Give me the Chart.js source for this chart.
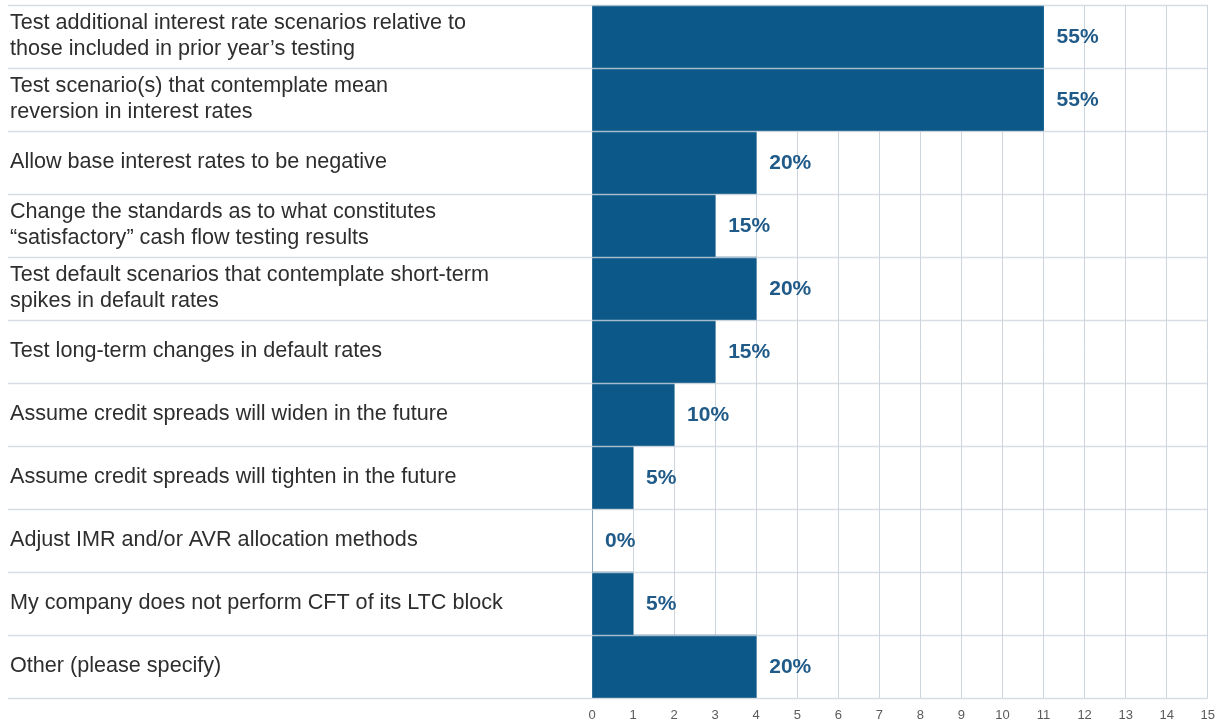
<!DOCTYPE html>
<html>
<head>
<meta charset="utf-8">
<script src="https://cdn.jsdelivr.net/npm/chart.js@4/dist/chart.umd.min.js"></script>
<style>
  html, body { margin: 0; padding: 0; background: #ffffff; }
  #wrap { width: 1225px; height: 726px; position: relative; }
</style>
</head>
<body>
<div id="wrap"><canvas id="c" width="1225" height="726"></canvas></div>
<script>
const categories = [
  ["Test additional interest rate scenarios relative to", "those included in prior year\u2019s testing"],
  ["Test scenario(s) that contemplate mean", "reversion in interest rates"],
  "Allow base interest rates to be negative",
  ["Change the standards as to what constitutes", "\u201csatisfactory\u201d cash flow testing results"],
  ["Test default scenarios that contemplate short-term", "spikes in default rates"],
  "Test long-term changes in default rates",
  "Assume credit spreads will widen in the future",
  "Assume credit spreads will tighten in the future",
  "Adjust IMR and/or AVR allocation methods",
  "My company does not perform CFT of its LTC block",
  "Other (please specify)"
];
const counts = [11, 11, 4, 3, 4, 3, 2, 1, 0, 1, 4];
const pctLabels = ["55%", "55%", "20%", "15%", "20%", "15%", "10%", "5%", "0%", "5%", "20%"];
const xTicks = [0, 1, 2, 3, 4, 5, 6, 7, 8, 9, 10, 11, 12, 13, 14, 15];

const rowLines = {
  id: 'rowLines',
  afterDatasetsDraw(chart) {
    const ctx = chart.ctx;
    const ys = chart.scales.y;
    const n = categories.length;
    const h = (ys.bottom - ys.top) / n;
    ctx.save();
    ctx.strokeStyle = 'rgba(205,212,220,0.8)';
    ctx.lineWidth = 1.5;
    for (let i = 0; i <= n; i++) {
      const y = Math.round(ys.top + i * h) + 0.5;
      ctx.beginPath();
      ctx.moveTo(8, y);
      ctx.lineTo(chart.chartArea.right, y);
      ctx.stroke();
    }
    const meta = chart.getDatasetMeta(0);
    ctx.fillStyle = '#1f5a88';
    ctx.font = 'bold 21px "Liberation Sans", Arial, sans-serif';
    ctx.textAlign = 'left';
    ctx.textBaseline = 'middle';
    meta.data.forEach((bar, i) => {
      ctx.fillText(pctLabels[i], bar.x + 13, bar.y + 1);
    });
    ctx.restore();
  }
};

new Chart(document.getElementById('c'), {
  type: 'bar',
  data: {
    labels: categories,
    datasets: [{
      data: counts,
      backgroundColor: '#0b5889',
      borderWidth: 0,
      categoryPercentage: 1.0,
      barPercentage: 1.0
    }]
  },
  options: {
    indexAxis: 'y',
    responsive: false,
    animation: false,
    devicePixelRatio: 1,
    layout: { padding: { left: 10, right: 15, top: 5, bottom: 0 } },
    plugins: { legend: { display: false }, tooltip: { enabled: false } },
    scales: {
      x: {
        min: 0, max: 15,
        afterBuildTicks(scale) { scale.ticks = xTicks.map(v => ({ value: v })); },
        afterFit(scale) { scale.height = 28; },
        grid: { color: '#cdd4de', lineWidth: 1, drawTicks: false },
        border: { display: false },
        ticks: {
          padding: 10,
          color: '#5a5a5a',
          font: { family: '"Liberation Sans Narrow", "Liberation Sans", Arial, sans-serif', size: 13 }
        }
      },
      y: {
        afterFit(scale) { scale.width = 582; scale.paddingTop = 0; scale.paddingBottom = 0; },
        grid: { display: false, drawTicks: false },
        border: { display: false },
        ticks: {
          crossAlign: 'far',
          color: '#2e2e2e',
          padding: 0,
          font: { family: '"Liberation Sans", Arial, sans-serif', size: 21.6, lineHeight: '26px' }
        }
      }
    }
  },
  plugins: [rowLines]
});
</script>
</body>
</html>
